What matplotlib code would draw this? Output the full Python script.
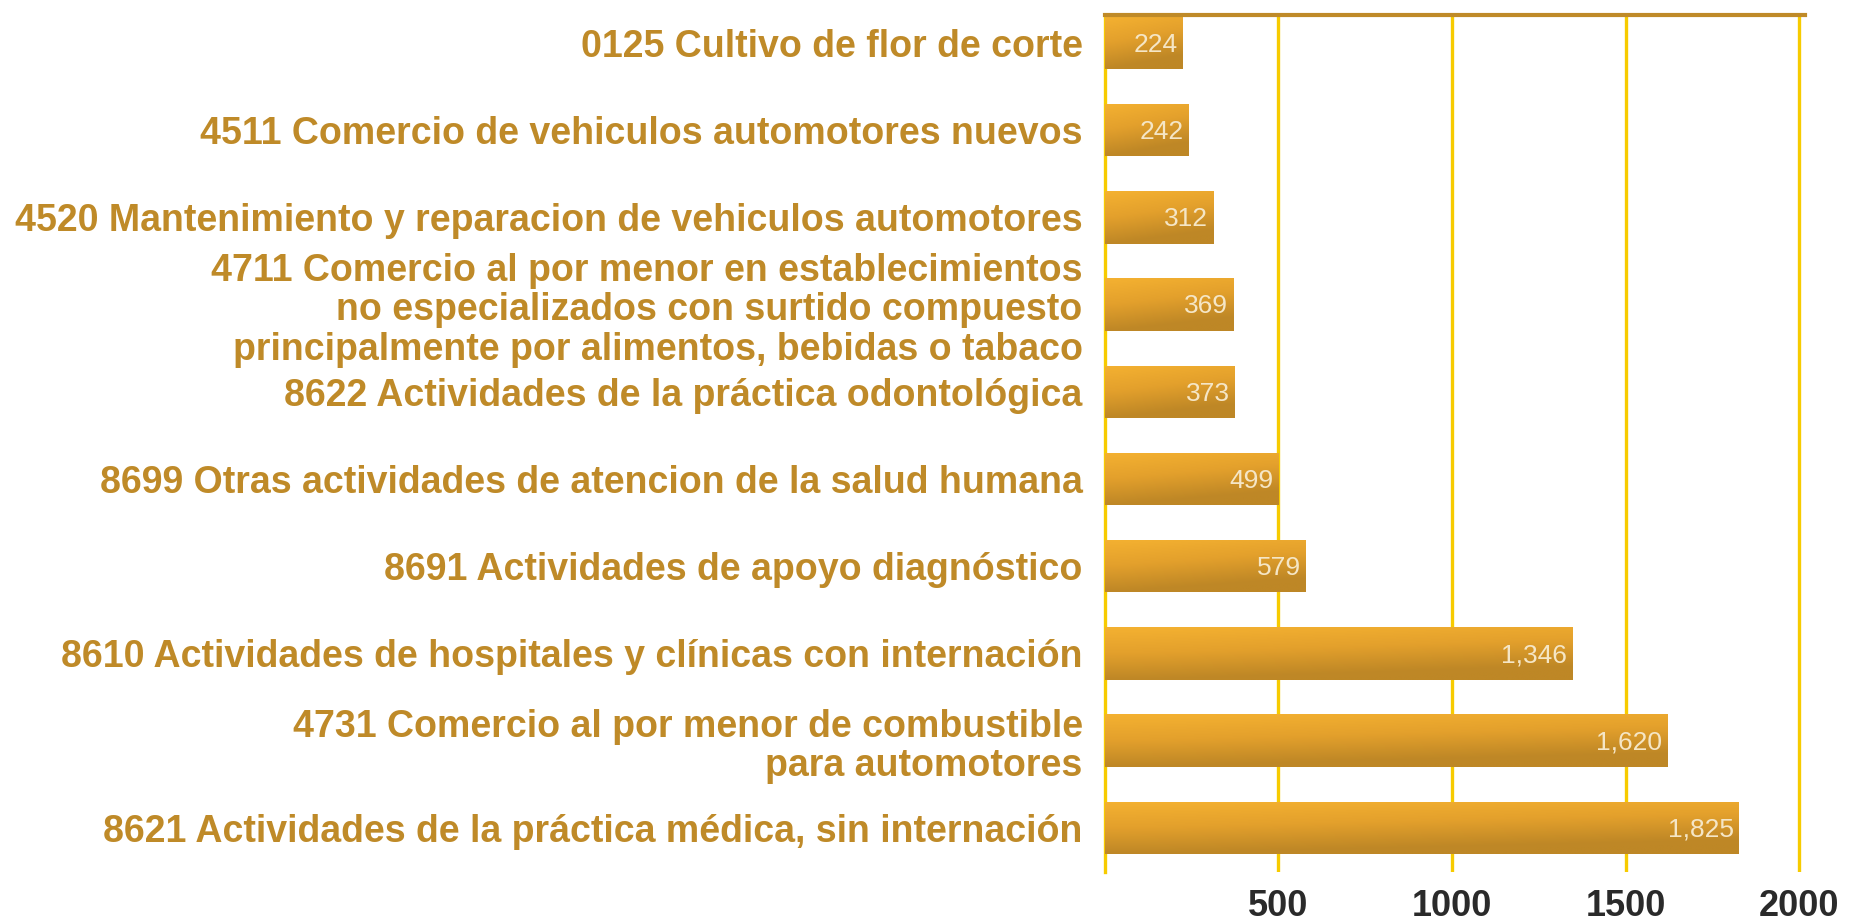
import numpy as np
import matplotlib
matplotlib.use("Agg")
import matplotlib.pyplot as plt
from matplotlib.colors import LinearSegmentedColormap

# --- data (top to bottom) ---
labels = [
    "0125 Cultivo de flor de corte",
    "4511 Comercio de vehiculos automotores nuevos",
    "4520 Mantenimiento y reparacion de vehiculos automotores",
    "4711 Comercio al por menor en establecimientos\nno especializados con surtido compuesto\nprincipalmente por alimentos, bebidas o tabaco",
    "8622 Actividades de la práctica odontológica",
    "8699 Otras actividades de atencion de la salud humana",
    "8691 Actividades de apoyo diagnóstico",
    "8610 Actividades de hospitales y clínicas con internación",
    "4731 Comercio al por menor de combustible\npara automotores",
    "8621 Actividades de la práctica médica, sin internación",
]
values = [224, 242, 312, 369, 373, 499, 579, 1346, 1620, 1825]
xticks = [500, 1000, 1500, 2000]

GOLD = "#BF8A28"
GRID = "#F7CB00"
FONT = ["Liberation Sans Narrow", "Liberation Sans", "DejaVu Sans"]

fig = plt.figure(figsize=(18.53, 9.21), dpi=100)
ax = fig.add_axes([0.5963, 0.0532, 0.9741 - 0.5963, 0.9837 - 0.0532])

y = np.arange(len(values))
bars = ax.barh(y, values, height=0.6, color="#D99A2C", zorder=2)

# vertical gradient on each bar, clipped to the bar shape
cmap = LinearSegmentedColormap.from_list("bar", ["#F4B131", "#E3A02C", "#BE8726"])
grad = np.linspace(0, 1, 64).reshape(-1, 1) * np.ones((1, 8))
grad = grad + np.linspace(0, 0.25, 8).reshape(1, -1)
grad = np.clip(grad, 0, 1)
for b, v, yi in zip(bars, values, y):
    im = ax.imshow(grad, cmap=cmap, aspect="auto", zorder=3,
                   extent=[0, v, yi + 0.3, yi - 0.3], interpolation="bicubic")
    im.set_clip_path(b)
    ax.text(v - 14, yi + 0.02, f"{v:,}", ha="right", va="center",
            color="#F5E6C6", fontsize=19, family=FONT, zorder=4)

ax.set_xlim(0, 2017)
ax.set_ylim(9.507, -0.321)

ax.set_yticks(y)
ax.set_yticklabels(labels, fontsize=27, fontweight="bold", color=GOLD,
                   family=FONT, linespacing=1.12, ha="right")
ax.set_xticks(xticks)
ax.set_xticklabels([str(t) for t in xticks], fontsize=26, fontweight="bold",
                   color="#2A2A2A", family=FONT)
ax.tick_params(axis="both", length=0)
ax.tick_params(axis="x", pad=12)
ax.tick_params(axis="y", pad=16)

ax.grid(axis="x", color=GRID, linewidth=2.4, zorder=1)
ax.set_axisbelow(True)
for s in ["right", "bottom"]:
    ax.spines[s].set_visible(False)
ax.spines["left"].set_color(GRID)
ax.spines["left"].set_linewidth(2.4)
ax.spines["top"].set_color(GOLD)
ax.spines["top"].set_linewidth(3)
ax.spines["top"].set_zorder(5)

fig.savefig("out.png", dpi=100)
